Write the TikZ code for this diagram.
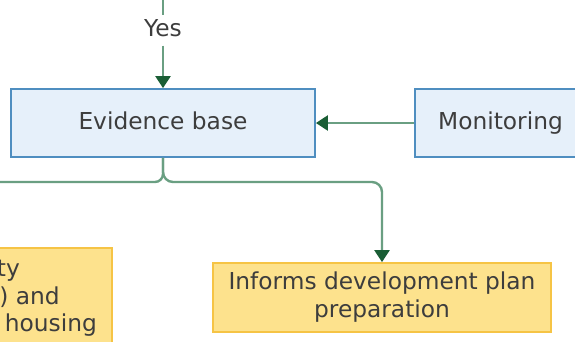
\documentclass[tikz,border=0pt]{standalone}
\usepackage{fontspec}
\setmainfont{DejaVu Sans}
\usetikzlibrary{arrows.meta}
\definecolor{txt}{HTML}{3D3D3D}
\definecolor{bluef}{HTML}{E6F0FA}
\definecolor{blued}{HTML}{4F8EC0}
\definecolor{yelf}{HTML}{FDE28D}
\definecolor{yeld}{HTML}{F6C445}
\definecolor{lin}{HTML}{6A9F82}
\definecolor{arr}{HTML}{1A5E35}
\begin{document}
\begin{tikzpicture}[x=1pt,y=-1pt,
  font=\fontsize{23.3}{28}\selectfont, text=txt,
  bluebox/.style={draw=blued, fill=bluef, line width=1.8pt, minimum height=68pt,
    inner sep=0pt, text depth=4.7pt, text height=17.7pt},
  yelbox/.style={draw=yeld, fill=yelf, line width=1.8pt, inner sep=0pt},
  plainline/.style={draw=lin, line width=2.4pt},
  conn/.style={plainline, -{Triangle[length=12pt,width=15pt,color=arr]}},
  lbl/.style={inner sep=4pt, text depth=4.7pt, text height=17.7pt},
  cut/.style={inner sep=0pt, anchor=base east}]
\useasboundingbox (0,0) rectangle (575,341);
\fill[white] (0,0) rectangle (575,341);

\node[bluebox, minimum width=304pt] (ev) at (163,123) {Evidence base};
\node[bluebox, minimum width=171pt] (mon) at (500.5,123) {Monitoring};
\node[yelbox, minimum width=338pt, minimum height=69pt, align=center] (inf) at (382,297.5) {Informs development plan\\preparation};
\node[yelbox, minimum width=232pt, minimum height=140pt] (lft) at (-4,318) {};
\node[cut] (l1) at (20,276) {ty};
\node[cut] (l2) at (60,304) {) and};
\node[cut] (l3) at (97,331) {housing};

\coordinate (top) at (163,-3);
\node[lbl] (yes) at (163,30.2) {Yes};
\draw[plainline] (top) -- (yes);
\draw[conn] (yes) -- (ev);
\draw[conn] (mon) -- (ev);

\coordinate (jl) at (-5,182);
\coordinate (jr) at (382,182);
\draw[plainline, rounded corners=8pt] (ev.south) |- (jl);
\draw[conn, rounded corners=10pt] (ev.south) |- (jr) -- (inf.north);
\end{tikzpicture}
\end{document}
